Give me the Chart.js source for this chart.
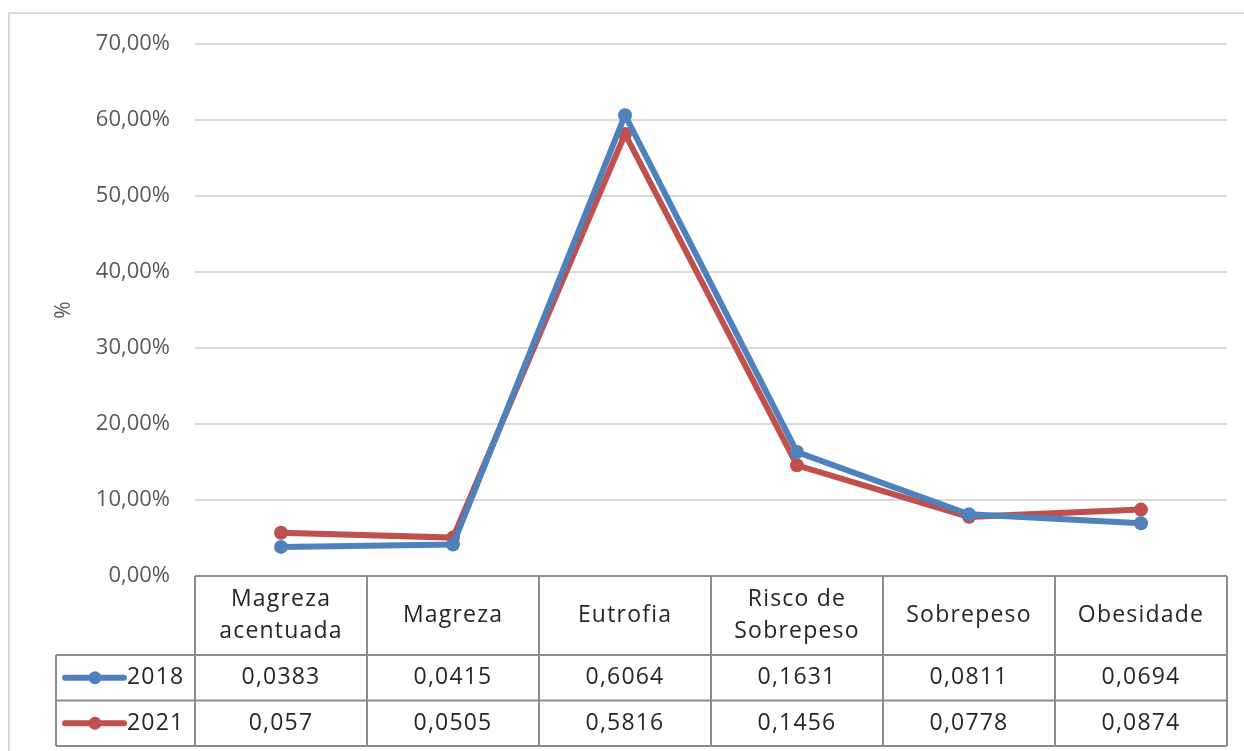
<!DOCTYPE html>
<html>
<head>
<meta charset="utf-8">
<script src="https://cdn.jsdelivr.net/npm/chart.js@4.4.1/dist/chart.umd.min.js"></script>
<style>
  html, body { margin: 0; padding: 0; background: #ffffff; }
  canvas { display: block; }
</style>
</head>
<body>
<canvas id="chart" width="1244" height="751"></canvas>
<script>
// Estado nutricional: proporções por categoria em 2018 e 2021
const categories = ['Magreza acentuada', 'Magreza', 'Eutrofia', 'Risco de Sobrepeso', 'Sobrepeso', 'Obesidade'];
const seriesNames = ['2018', '2021'];
const values2018 = [0.0383, 0.0415, 0.6064, 0.1631, 0.0811, 0.0694];
const values2021 = [0.057, 0.0505, 0.5816, 0.1456, 0.0778, 0.0874];
const yTicks = [0, 0.1, 0.2, 0.3, 0.4, 0.5, 0.6, 0.7];

const seriesColors = ['#4F81BD', '#C0504D'];
const FONT = '"Open Sans", "Noto Sans", sans-serif';

const fmtDecimal = v => String(v).replace('.', ',');
const fmtPercent = v => (v * 100).toFixed(2).replace('.', ',') + '%';

// Moldura externa do gráfico
const framePlugin = {
  id: 'frame',
  beforeDraw(chart) {
    const ctx = chart.ctx;
    ctx.save();
    ctx.fillStyle = '#ffffff';
    ctx.fillRect(0, 0, chart.width, chart.height);
    ctx.strokeStyle = '#d9d9d9';
    ctx.lineWidth = 2;
    ctx.strokeRect(9, 13, chart.width + 20, chart.height + 20);
    ctx.restore();
  }
};

// Tabela de dados sob o eixo das categorias
function wrapText(ctx, text, maxWidth) {
  const words = text.split(' ');
  const lines = [];
  let cur = '';
  for (const w of words) {
    const test = cur ? cur + ' ' + w : w;
    if (cur && ctx.measureText(test).width > maxWidth) {
      lines.push(cur);
      cur = w;
    } else {
      cur = test;
    }
  }
  if (cur) lines.push(cur);
  return lines;
}

const dataTablePlugin = {
  id: 'dataTable',
  afterDraw(chart) {
    const ctx = chart.ctx;
    const xs = chart.scales.x;
    const area = chart.chartArea;
    const n = categories.length;
    const colW = (area.right - area.left) / n;
    const headerH = 79;
    const rowH = 45.5;
    const legendLeft = 56;
    const top = area.bottom;
    const headerBottom = top + headerH;
    const tableBottom = headerBottom + rowH * seriesNames.length;
    const seriesData = [values2018, values2021];

    ctx.save();
    ctx.strokeStyle = '#8c8c8c';
    ctx.lineWidth = 2;
    ctx.beginPath();
    // linhas horizontais
    ctx.moveTo(area.left, top); ctx.lineTo(area.right, top);
    for (let r = 0; r <= seriesNames.length; r++) {
      const y = headerBottom + r * rowH;
      ctx.moveTo(legendLeft, y); ctx.lineTo(area.right, y);
    }
    // linhas verticais
    ctx.moveTo(legendLeft, headerBottom); ctx.lineTo(legendLeft, tableBottom);
    for (let i = 0; i <= n; i++) {
      const x = area.left + i * colW;
      ctx.moveTo(x, top); ctx.lineTo(x, tableBottom);
    }
    ctx.stroke();

    ctx.fillStyle = '#262626';
    ctx.font = '23px ' + FONT;
    ctx.letterSpacing = '1.2px';
    ctx.textAlign = 'center';
    ctx.textBaseline = 'middle';

    // cabeçalho de categorias
    categories.forEach((c, i) => {
      const cx = xs.getPixelForValue(i);
      const lines = wrapText(ctx, c, colW - 20);
      const lh = 32;
      const cy = top + headerH / 2;
      lines.forEach((ln, k) => {
        ctx.fillText(ln, cx, cy + (k - (lines.length - 1) / 2) * lh);
      });
    });

    // linhas de valores com a legenda
    seriesNames.forEach((name, r) => {
      const cy = headerBottom + r * rowH + rowH / 2;
      const color = seriesColors[r];
      ctx.strokeStyle = color;
      ctx.lineWidth = 6;
      ctx.lineCap = 'round';
      ctx.beginPath();
      ctx.moveTo(65, cy); ctx.lineTo(124, cy);
      ctx.stroke();
      ctx.fillStyle = color;
      ctx.beginPath();
      ctx.arc(95, cy, 6.5, 0, Math.PI * 2);
      ctx.fill();

      ctx.fillStyle = '#262626';
      ctx.textAlign = 'left';
      ctx.fillText(name, 127, cy);
      ctx.textAlign = 'center';
      seriesData[r].forEach((v, i) => {
        ctx.fillText(fmtDecimal(v), xs.getPixelForValue(i), cy);
      });
    });
    ctx.restore();
  }
};

const lineDataset = (label, data, color) => ({
  label,
  data,
  borderColor: color,
  backgroundColor: color,
  borderWidth: 6,
  pointRadius: 7,
  pointBorderWidth: 0,
  pointBackgroundColor: color,
  tension: 0
});

new Chart(document.getElementById('chart'), {
  type: 'line',
  data: {
    labels: categories,
    datasets: [
      lineDataset(seriesNames[0], values2018, seriesColors[0]),
      lineDataset(seriesNames[1], values2021, seriesColors[1])
    ]
  },
  options: {
    responsive: false,
    animation: false,
    devicePixelRatio: 1,
    layout: { padding: { left: 9, top: 44, right: 17, bottom: 175 } },
    plugins: {
      legend: { display: false },
      tooltip: { enabled: false }
    },
    scales: {
      x: {
        type: 'category',
        offset: true,
        display: false
      },
      y: {
        min: 0,
        max: 0.7,
        afterBuildTicks(scale) {
          scale.ticks = yTicks.map(v => ({ value: v }));
        },
        afterFit(scale) { scale.width = 186; },
        ticks: {
          callback: v => fmtPercent(v),
          color: '#595959',
          font: { family: FONT, size: 22 },
          padding: 25
        },
        grid: {
          color: '#d9d9d9',
          lineWidth: 2,
          drawTicks: false
        },
        border: { display: false },
        title: {
          display: true,
          text: '%',
          color: '#595959',
          font: { family: FONT, size: 21 },
          padding: { top: 42, bottom: 0 }
        }
      }
    }
  },
  plugins: [framePlugin, dataTablePlugin]
});
</script>
</body>
</html>
